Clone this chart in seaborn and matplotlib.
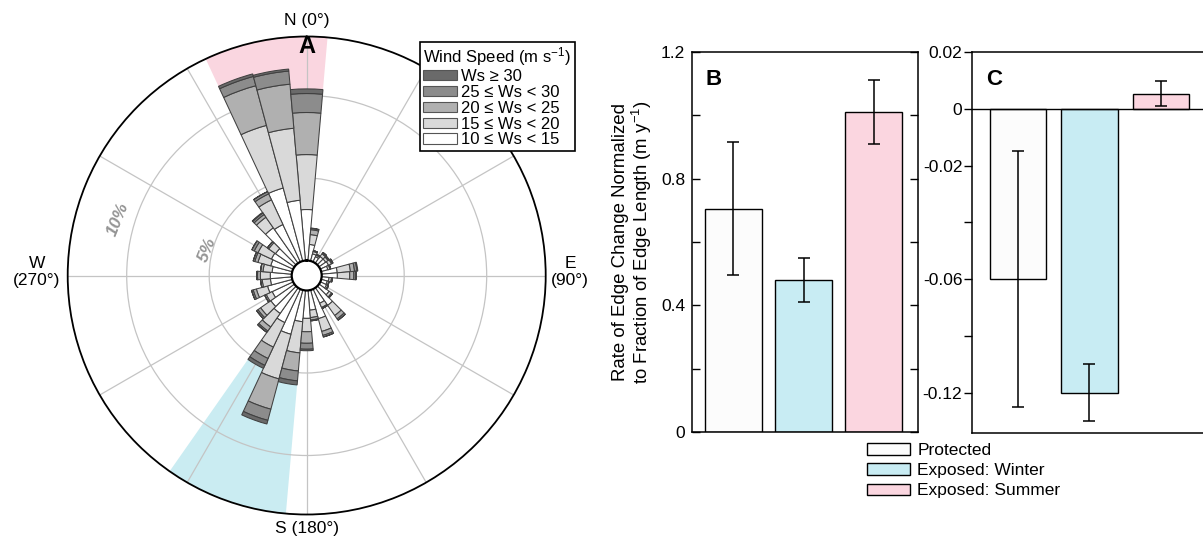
import numpy as np
import pandas as pd
import matplotlib
matplotlib.use("Agg")
import matplotlib.pyplot as plt
from matplotlib.patches import Patch
import seaborn as sns

# ---------------- Panel A: wind rose (% of observations per 10 degree bin) ----------------
directions = list(range(0, 360, 10))
ws_10_15 = [3.09, 0.98, 0.45, 0.35, 0.50, 0.50, 0.55, 0.42, 0.95, 0.95, 0.45, 0.38,
            0.42, 0.75, 1.30, 0.95, 1.80, 1.20, 1.69, 1.90, 2.78, 2.24, 1.90, 1.75,
            1.40, 1.55, 1.30, 1.30, 1.20, 1.35, 1.45, 1.40, 2.62, 2.50, 4.58, 3.67]
ws_15_20 = [3.33, 0.60, 0.15, 0.10, 0.20, 0.17, 0.20, 0.13, 0.80, 0.75, 0.15, 0.10,
            0.10, 0.18, 0.75, 0.28, 0.80, 0.45, 0.81, 1.90, 2.80, 1.64, 1.00, 0.75,
            0.40, 0.70, 0.50, 0.60, 0.55, 0.80, 0.90, 0.50, 0.78, 1.65, 3.93, 4.38]
ws_20_25 = [2.55, 0.30, 0.05, 0.05, 0.07, 0.06, 0.07, 0.05, 0.25, 0.25, 0.05, 0.02,
            0.03, 0.05, 0.25, 0.07, 0.25, 0.15, 0.70, 1.10, 1.90, 0.76, 0.30, 0.20,
            0.10, 0.20, 0.10, 0.17, 0.15, 0.20, 0.25, 0.10, 0.20, 0.40, 2.49, 2.68]
ws_25_30 = [1.15, 0.08, 0.00, 0.00, 0.03, 0.02, 0.03, 0.00, 0.15, 0.12, 0.00, 0.00,
            0.00, 0.02, 0.10, 0.00, 0.10, 0.05, 0.36, 0.60, 0.70, 0.46, 0.10, 0.10,
            0.00, 0.10, 0.00, 0.05, 0.00, 0.10, 0.16, 0.00, 0.12, 0.15, 0.58, 0.80]
ws_30_up = [0.28, 0.02, 0.00, 0.00, 0.00, 0.00, 0.00, 0.00, 0.05, 0.03, 0.00, 0.00,
            0.00, 0.00, 0.00, 0.00, 0.00, 0.00, 0.09, 0.25, 0.23, 0.20, 0.00, 0.00,
            0.00, 0.00, 0.00, 0.00, 0.00, 0.00, 0.00, 0.00, 0.04, 0.00, 0.16, 0.12]
speed_labels = ["10 ≤ Ws < 15", "15 ≤ Ws < 20", "20 ≤ Ws < 25", "25 ≤ Ws < 30", "Ws ≥ 30"]
speed_colors = ["#ffffff", "#d9d9d9", "#b0b0b0", "#8c8c8c", "#6a6a6a"]
ring_values = [5, 10]
ring_labels = ["5%", "10%"]
summer_sector = (335, 5)     # degrees, highlighted from the 10% ring outward
winter_sector = (185, 215)   # degrees, highlighted from the 5% ring outward

# ---------------- Panels B and C ----------------
groups = ["Protected", "Exposed: Winter", "Exposed: Summer"]
group_colors = ["#fcfcfc", "#c8ecf3", "#fbd6e0"]
rate_b = [0.705, 0.481, 1.01]
err_b = [0.21, 0.07, 0.10]
rate_c = [-0.06, -0.12, 0.0053]
err_c_low = [0.0677, 0.0151, 0.0044]
err_c_high = [0.0452, 0.0151, 0.0044]
b_ticks = [0, 0.4, 0.8, 1.2]
b_tick_labels = ["0", "0.4", "0.8", "1.2"]
b_minor = [0.2, 0.6, 1.0]
c_ticks = [0.02, 0, -0.02, -0.06, -0.12]
c_tick_labels = ["0.02", "0", "-0.02", "-0.06", "-0.12"]
c_minor = [-0.04, -0.09]

sns.set_theme(style="white")
plt.rcParams["font.family"] = ["Liberation Sans", "DejaVu Sans"]
plt.rcParams["mathtext.fontset"] = "custom"
plt.rcParams["mathtext.rm"] = "Liberation Sans"
plt.rcParams["mathtext.default"] = "regular"
for key in ["text.color", "axes.labelcolor", "xtick.color", "ytick.color"]:
    plt.rcParams[key] = "black"

W, H = 1203, 541
fig = plt.figure(figsize=(W / 100, H / 100), dpi=100)

def fx(px):
    return px / W

def fy(py):
    return 1 - py / H

# ---------- wind rose ----------
cx, cy, R = 306.7, 275.5, 239
ax = fig.add_axes([fx(cx - R), fy(cy + R), 2 * R / W, 2 * R / H], projection="polar")
ax.set_theta_zero_location("N")
ax.set_theta_direction(-1)
rmax = 13.576
ax.set_rorigin(-0.909)
ax.set_ylim(0, rmax)
ax.set_axisbelow(True)

def sector(a0, a1, r0, color):
    width = (a1 - a0) % 360
    center = a0 + width / 2
    ax.bar(np.deg2rad(center), rmax - r0, width=np.deg2rad(width), bottom=r0,
           color=color, edgecolor="none", zorder=0.2)

sector(summer_sector[0], summer_sector[1], 10, "#fad6e0")
sector(winter_sector[0], winter_sector[1], 5, "#caecf2")

theta = np.deg2rad(directions)
bottom = np.zeros(len(directions))
for vals, col in zip([ws_10_15, ws_15_20, ws_20_25, ws_25_30, ws_30_up], speed_colors):
    v = np.array(vals)
    ax.bar(theta, v, width=np.deg2rad(10), bottom=bottom, color=col,
           edgecolor="#404040", linewidth=0.75, zorder=2)
    bottom = bottom + v

ax.set_xticks(np.deg2rad(np.arange(0, 360, 30)))
ax.set_xticklabels([])
ax.set_yticks(ring_values)
ax.set_yticklabels([])
ax.grid(True, color="#c4c4c4", linewidth=0.9)
ax.spines["polar"].set_color("black")
ax.spines["polar"].set_linewidth(1.3)
ax.spines["inner"].set_color("black")
ax.spines["inner"].set_linewidth(1.6)
ax.set_facecolor("white")

for rv, lab, ang in zip(ring_values, ring_labels, [284.7, 286.7]):
    ax.text(np.deg2rad(ang), rv + (0.3 if rv == 5 else 1.0), lab, color="#959595", fontsize=12.5,
            fontweight="bold", fontstyle="italic", rotation=68, ha="center", va="center",
            rotation_mode="anchor", zorder=5)

fig.text(fx(306.7), fy(20), "N (0°)", ha="center", va="center", fontsize=12.5)
fig.text(fx(306.7), fy(528), "S (180°)", ha="center", va="center", fontsize=12.5)
fig.text(fx(37), fy(272), "W\n(270°)", ha="center", va="center", fontsize=12.5, linespacing=1.2)
fig.text(fx(570), fy(272), "E\n(90°)", ha="center", va="center", fontsize=12.5, linespacing=1.2)
fig.text(fx(306.7), fy(46.5), "A", ha="center", va="center", fontsize=17, fontweight="bold")

rose_handles = [Patch(facecolor=c, edgecolor="#555555", linewidth=0.8)
                for c in speed_colors[::-1]]
leg1 = fig.legend(rose_handles, speed_labels[::-1], loc="upper left",
                  bbox_to_anchor=(fx(420), fy(42)), title="Wind Speed (m s$^{-1}$)",
                  fontsize=12, title_fontsize=12, frameon=True, fancybox=False,
                  edgecolor="black", framealpha=1, borderpad=0.2, labelspacing=0.05,
                  handlelength=2.0, handleheight=0.55, handletextpad=0.25, borderaxespad=0,
                  alignment="left")
leg1.get_frame().set_linewidth(1.2)

# ---------- panel B ----------
axB = fig.add_axes([fx(692), fy(432), fx(918) - fx(692), (432 - 52) / H])
df_b = pd.DataFrame({"group": groups, "rate": rate_b})
sns.barplot(data=df_b, x="group", y="rate", hue="group", order=groups, hue_order=groups,
            palette=group_colors, saturation=1, width=0.81, edgecolor="black",
            linewidth=1.0, errorbar=None, legend=False, ax=axB)
axB.errorbar(range(len(groups)), rate_b, yerr=err_b, fmt="none", ecolor="black",
             elinewidth=1.1, capsize=4, capthick=1.1, zorder=5)
axB.set_xlim(-0.59, 2.63)
axB.set_ylim(0, 1.2)
axB.set_xticks([])
axB.set_xlabel("")
axB.set_ylabel("")
axB.set_yticks(b_ticks)
axB.set_yticklabels(b_tick_labels)
axB.set_yticks(b_minor, minor=True)
axB.tick_params(axis="y", which="both", direction="in", left=True, right=True,
                length=6, width=1, color="black", labelsize=12.5, pad=5)
for s in axB.spines.values():
    s.set_color("black")
    s.set_linewidth(1.1)
axB.text(0.06, 0.955, "B", transform=axB.transAxes, fontsize=16, fontweight="bold",
         ha="left", va="top")
fig.text(fx(633), fy(242), "Rate of Edge Change Normalized\nto Fraction of Edge Length (m y$^{-1}$)",
         rotation=90, ha="center", va="center", fontsize=13.4, multialignment="center",
         linespacing=1.1)

# ---------- panel C ----------
axC = fig.add_axes([fx(972), fy(433), 1.003 - fx(972), (433 - 52) / H])
df_c = pd.DataFrame({"group": groups, "rate": rate_c})
sns.barplot(data=df_c, x="group", y="rate", hue="group", order=groups, hue_order=groups,
            palette=group_colors, saturation=1, width=0.79, edgecolor="black",
            linewidth=1.0, errorbar=None, legend=False, ax=axC)
axC.errorbar(range(len(groups)), rate_c, yerr=[err_c_low, err_c_high], fmt="none",
             ecolor="black", elinewidth=1.1, capsize=4, capthick=1.1, zorder=5)

def fwd(v):
    v = np.asarray(v, dtype=float)
    return np.where(v >= -0.06, v, -0.06 + (v + 0.06) / 1.5)

def inv(p):
    p = np.asarray(p, dtype=float)
    return np.where(p >= -0.06, p, -0.06 + (p + 0.06) * 1.5)

axC.set_yscale("function", functions=(fwd, inv))
axC.set_ylim(-0.1413, 0.0191)
axC.set_xlim(-0.64, 2.64)
axC.axhline(0, color="black", linewidth=1.0, zorder=4)
axC.set_xticks([])
axC.set_xlabel("")
axC.set_ylabel("")
axC.set_yticks(c_ticks)
axC.set_yticklabels(c_tick_labels)
axC.set_yticks(c_minor, minor=True)
axC.set_yticklabels([], minor=True)
axC.tick_params(axis="y", which="both", direction="out", left=True, right=False,
                length=6, width=1, color="black", labelsize=12.5, pad=1)
for s in axC.spines.values():
    s.set_color("black")
    s.set_linewidth(1.1)
axC.text(0.06, 0.955, "C", transform=axC.transAxes, fontsize=16, fontweight="bold",
         ha="left", va="top")

# ---------- bottom legend ----------
grp_handles = [Patch(facecolor=c, edgecolor="black", linewidth=1.0) for c in group_colors]
leg2 = fig.legend(grp_handles, groups, loc="upper left", bbox_to_anchor=(fx(867), fy(443)),
                  fontsize=12.5, frameon=False, labelspacing=0.3, handlelength=2.5,
                  handleheight=0.65, handletextpad=0.4, borderaxespad=0, borderpad=0)

fig.savefig("out.png", dpi=100)
